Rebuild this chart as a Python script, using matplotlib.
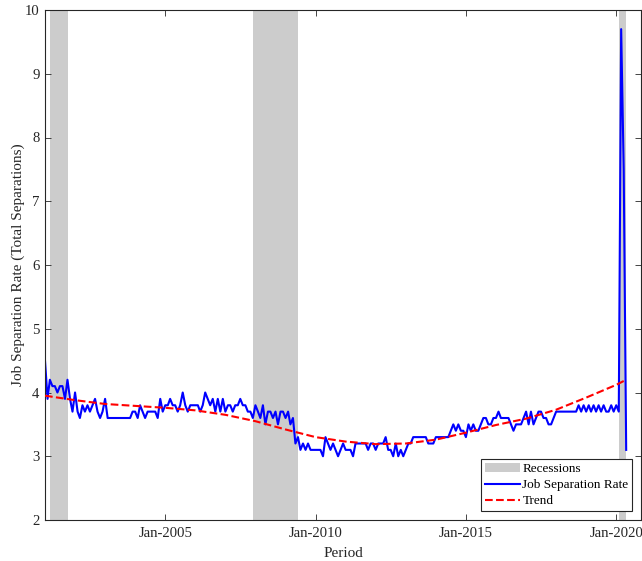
import numpy as np
import pandas as pd
import matplotlib
matplotlib.use("Agg")
import matplotlib.pyplot as plt
import matplotlib.dates as mdates
from matplotlib.patches import Patch
from matplotlib.lines import Line2D

plt.rcParams['font.family'] = ['Liberation Serif', 'DejaVu Serif']

# monthly job separation rate, Jan 2001 - May 2020
rate_2001 = [4.5, 3.9, 4.2, 4.1, 4.1, 4.0, 4.1, 4.1, 3.9, 4.2, 3.9, 3.7]
rate_2002 = [4.0, 3.7, 3.6, 3.8, 3.7, 3.8, 3.7, 3.8, 3.9, 3.7, 3.6, 3.7]
rate_2003 = [3.9, 3.6, 3.6, 3.6, 3.6, 3.6, 3.6, 3.6, 3.6, 3.6, 3.6, 3.7]
rate_2004 = [3.7, 3.6, 3.8, 3.7, 3.6, 3.7, 3.7, 3.7, 3.7, 3.6, 3.9, 3.7]
rate_2005 = [3.8, 3.8, 3.9, 3.8, 3.8, 3.7, 3.8, 4.0, 3.8, 3.7, 3.8, 3.8]
rate_2006 = [3.8, 3.8, 3.7, 3.8, 4.0, 3.9, 3.8, 3.9, 3.7, 3.9, 3.7, 3.9]
rate_2007 = [3.7, 3.8, 3.8, 3.7, 3.8, 3.8, 3.9, 3.8, 3.8, 3.7, 3.7, 3.6]
rate_2008 = [3.8, 3.7, 3.6, 3.8, 3.5, 3.7, 3.7, 3.6, 3.7, 3.5, 3.7, 3.7]
rate_2009 = [3.6, 3.7, 3.5, 3.6, 3.2, 3.3, 3.1, 3.2, 3.1, 3.2, 3.1, 3.1]
rate_2010 = [3.1, 3.1, 3.1, 3.0, 3.3, 3.2, 3.1, 3.2, 3.1, 3.0, 3.1, 3.2]
rate_2011 = [3.1, 3.1, 3.1, 3.0, 3.2, 3.2, 3.2, 3.2, 3.2, 3.1, 3.2, 3.2]
rate_2012 = [3.1, 3.2, 3.2, 3.2, 3.3, 3.1, 3.1, 3.0, 3.2, 3.0, 3.1, 3.0]
rate_2013 = [3.1, 3.2, 3.2, 3.3, 3.3, 3.3, 3.3, 3.3, 3.3, 3.2, 3.2, 3.2]
rate_2014 = [3.3, 3.3, 3.3, 3.3, 3.3, 3.3, 3.4, 3.5, 3.4, 3.5, 3.4, 3.4]
rate_2015 = [3.3, 3.5, 3.4, 3.5, 3.4, 3.4, 3.5, 3.6, 3.6, 3.5, 3.5, 3.6]
rate_2016 = [3.6, 3.7, 3.6, 3.6, 3.6, 3.6, 3.5, 3.4, 3.5, 3.5, 3.5, 3.6]
rate_2017 = [3.7, 3.5, 3.7, 3.5, 3.6, 3.7, 3.7, 3.6, 3.6, 3.5, 3.5, 3.6]
rate_2018 = [3.7, 3.7, 3.7, 3.7, 3.7, 3.7, 3.7, 3.7, 3.7, 3.8, 3.7, 3.8]
rate_2019 = [3.7, 3.8, 3.7, 3.8, 3.7, 3.8, 3.7, 3.8, 3.7, 3.7, 3.8, 3.7]
rate_2020 = [3.8, 3.7, 9.7, 7.5, 3.1]

rate = (rate_2001 + rate_2002 + rate_2003 + rate_2004 + rate_2005 + rate_2006
        + rate_2007 + rate_2008 + rate_2009 + rate_2010 + rate_2011 + rate_2012
        + rate_2013 + rate_2014 + rate_2015 + rate_2016 + rate_2017 + rate_2018
        + rate_2019 + rate_2020)
period = pd.date_range("2001-01-01", periods=len(rate), freq="MS")

# smooth trend, sampled each January
trend_dates = pd.to_datetime([f"{y}-01-01" for y in range(2001, 2021)] + ["2020-05-01"])
trend = [3.95, 3.88, 3.82, 3.79, 3.76, 3.72, 3.65, 3.55, 3.42, 3.30,
         3.23, 3.19, 3.20, 3.26, 3.37, 3.49, 3.59, 3.73, 3.92, 4.12, 4.20]

recessions = [("2001-03-01", "2001-10-10"),
              ("2007-12-01", "2009-06-01"),
              ("2020-02-01", "2020-05-01")]

fig = plt.figure(figsize=(6.42, 5.61), dpi=100)
ax = fig.add_axes([45/642, 1 - 520/561, 596/642, 510/561])

gray = (0.8, 0.8, 0.8)
for start, end in recessions:
    ax.axvspan(pd.Timestamp(start), pd.Timestamp(end), color=gray, lw=0, zorder=0)

ax.plot(period, rate, color=(0, 0, 1), lw=1.5, zorder=2)
ax.plot(trend_dates, trend, color=(1, 0, 0), lw=1.5, ls="--", zorder=3)

ax.set_ylim(2, 10)
ax.set_yticks(range(2, 11))
ax.set_xlim(pd.Timestamp("2001-01-01"), pd.Timestamp("2020-10-28"))
ax.set_xticks([pd.Timestamp(f"{y}-01-01") for y in (2005, 2010, 2015, 2020)])
ax.xaxis.set_major_formatter(mdates.DateFormatter("%b-%Y"))

axcol = (0.15, 0.15, 0.15)
for s in ax.spines.values():
    s.set_color(axcol)
    s.set_linewidth(0.8)
ax.tick_params(direction="in", length=4, width=0.6, colors=axcol, labelsize=10.6,
               top=True, right=True, labelcolor=axcol)
ax.tick_params(axis="x", pad=5)
ax.tick_params(axis="y", pad=4)

ax.set_xlabel("Period", fontsize=11, color=axcol, labelpad=5)
ax.set_ylabel("Job Separation Rate (Total Separations)", fontsize=11, color=axcol)
ax.yaxis.set_label_coords(-0.034, 0.5)

handles = [Patch(facecolor=gray, edgecolor="none"),
           Line2D([], [], color=(0, 0, 1), lw=1.5),
           Line2D([], [], color=(1, 0, 0), lw=1.5, ls="--")]
leg = ax.legend(handles, ["Recessions", "Job Separation Rate", "Trend"],
                loc="lower right", fontsize=9.5, fancybox=False, framealpha=1,
                edgecolor=axcol, borderaxespad=0.65, labelspacing=0.3,
                handlelength=2.6, handletextpad=0.2, borderpad=0.3)
leg.get_frame().set_linewidth(0.8)

fig.savefig("out.png", dpi=100)
